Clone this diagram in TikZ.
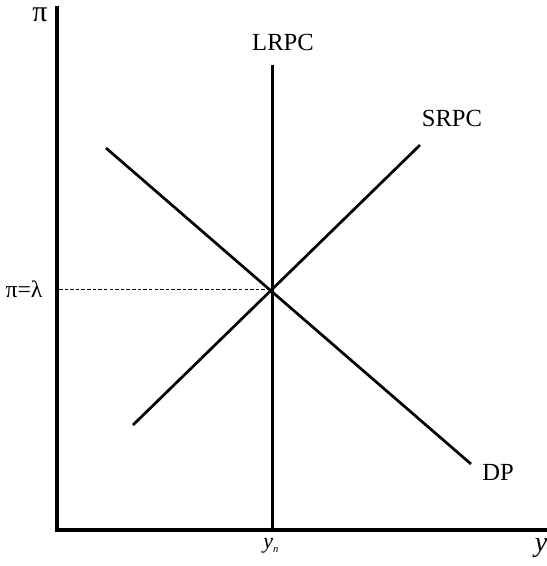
\documentclass[tikz,border=0pt]{standalone}
\usepackage{fontspec}
\setmainfont{Liberation Serif}
\usetikzlibrary{positioning}

\begin{document}
\begin{tikzpicture}[
x=0.02cm, y=-0.02cm,
axis/.style={line width=1.75pt},
curve/.style={line width=1.55pt},
guide/.style={line width=0.45pt, dash pattern=on 2pt off 1.2pt},
every node/.style={inner sep=0pt, font=\fontsize{14}{16}\selectfont}
]
\useasboundingbox (0,0) rectangle (547,566);

% axes
\coordinate (top) at (57,6);
\coordinate (origin) at (57,530);
\coordinate (right) at (547,530);
\draw[axis] (top) -- (origin) -- (right);

% curves
\coordinate (lrpcTop) at (272.3,65);
\coordinate (lrpcBot) at (272.3,530);
\coordinate (srpcLow) at (133,425);
\coordinate (srpcHigh) at (420,145);
\coordinate (dpHigh) at (106,148);
\coordinate (dpLow) at (471,464);
\coordinate (eq) at (272,289);
\coordinate (eqAxis) at (59,289);

\draw[curve] (lrpcTop) -- (lrpcBot);
\draw[curve] (srpcLow) -- (srpcHigh);
\draw[curve] (dpHigh) -- (dpLow);
\draw[guide] (eqAxis) -- (eq);

% labels
\node (pi) at (40,15) {\fontsize{17}{19}\selectfont π};
\node (yaxis) at (541,548) {\fontsize{16}{18}\selectfont\itshape y};
\node (lrpc) at (283,42) {LRPC};
\node (srpc) at (452,118) {SRPC};
\node (dp) at (498,472) {DP};
\node (pilambda) at (24,289) {\fontsize{13.5}{15}\selectfont π=λ};
\node (yn) at (271,546) {\fontsize{12.5}{14}\selectfont\itshape y\raisebox{-0.4ex}{\fontsize{6}{7}\selectfont n}};

\end{tikzpicture}
\end{document}
